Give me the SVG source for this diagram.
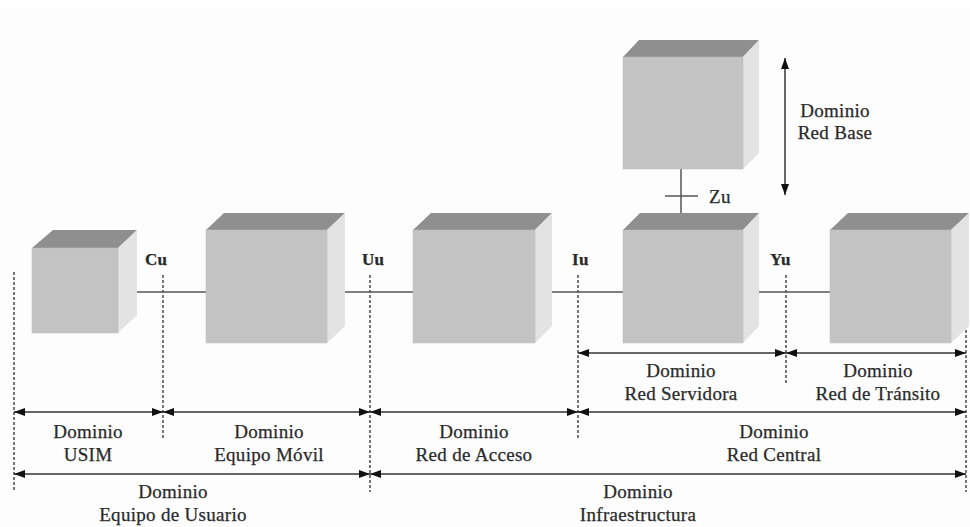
<svg xmlns="http://www.w3.org/2000/svg" width="970" height="527" viewBox="0 0 970 527">
<defs>
<marker id="ah" viewBox="0 0 11 8" refX="11" refY="4" markerWidth="11" markerHeight="8" markerUnits="userSpaceOnUse" orient="auto-start-reverse"><path d="M0,0 L11,4 L0,8 z" fill="#111"/></marker>
<pattern id="dots" width="4" height="4" patternUnits="userSpaceOnUse"><rect width="4" height="4" fill="#c4c4c4"/><rect x="1" y="1" width="1" height="1" fill="#b8b8b8"/></pattern>
</defs>
<style>
.front{fill:url(#dots);stroke:#bdbdbd;stroke-width:0.5}
.top{fill:#8f8f8f}
.side{fill:#e3e3e3}
.conn{stroke:#555;stroke-width:1.5;fill:none}
.dash{stroke:#555;stroke-width:1.6;stroke-dasharray:3,2;fill:none}
.arr{stroke:#333;stroke-width:1.5;fill:none;marker-start:url(#ah);marker-end:url(#ah)}
text{font-family:"Liberation Serif","Times New Roman",serif;font-size:19px;fill:#2a2a2a;stroke:#2a2a2a;stroke-width:0.25;letter-spacing:0.3px}
.c{text-anchor:middle}
.lbl{font-weight:bold;font-size:17px}
</style>
<rect width="970" height="527" fill="#fff"/>
<rect y="10" width="970" height="517" fill="#fcfdfc"/>

<g id="connectors">
<line class="conn" x1="137" y1="292" x2="206" y2="292"/>
<line class="conn" x1="345" y1="292" x2="413" y2="292"/>
<line class="conn" x1="552" y1="292" x2="623" y2="292"/>
<line class="conn" x1="759" y1="292" x2="830" y2="292"/>
<line class="conn" x1="681" y1="169" x2="681" y2="222"/>
<line class="conn" x1="665" y1="196" x2="698" y2="196"/>
<line class="arr" x1="785" y1="58" x2="785" y2="195"/>
<line class="dash" x1="14" y1="272" x2="14" y2="492"/>
<line class="dash" x1="163" y1="275" x2="163" y2="438"/>
<line class="dash" x1="370" y1="275" x2="370" y2="492"/>
<line class="dash" x1="578" y1="275" x2="578" y2="438"/>
<line class="dash" x1="786" y1="275" x2="786" y2="383"/>
<line class="dash" x1="966" y1="275" x2="966" y2="492"/>
<line class="arr" x1="578" y1="353" x2="786" y2="353"/>
<line class="arr" x1="786" y1="353" x2="966" y2="353"/>
<line class="arr" x1="14" y1="412" x2="163" y2="412"/>
<line class="arr" x1="163" y1="412" x2="370" y2="412"/>
<line class="arr" x1="370" y1="412" x2="578" y2="412"/>
<line class="arr" x1="578" y1="412" x2="966" y2="412"/>
<line class="arr" x1="14" y1="474" x2="370" y2="474"/>
<line class="arr" x1="370" y1="474" x2="966" y2="474"/>
</g>

<g id="usim">
<polygon class="top" points="32,248 118,248 137,230 53,230"/>
<polygon class="side" points="118,248 137,230 137,315 118,333"/>
<rect class="front" x="32" y="248" width="86" height="85"/>
</g>
<g id="equipo-movil">
<polygon class="top" points="206,230 327,230 345,213 224,213"/>
<polygon class="side" points="327,230 345,213 345,326 327,343"/>
<rect class="front" x="206" y="230" width="121" height="113"/>
</g>
<g id="red-acceso">
<polygon class="top" points="413,230 535,230 552,213 431,213"/>
<polygon class="side" points="535,230 552,213 552,326 535,343"/>
<rect class="front" x="413" y="230" width="122" height="113"/>
</g>
<g id="red-servidora">
<polygon class="top" points="623,230 743,230 759,213 640,213"/>
<polygon class="side" points="743,230 759,213 759,326 743,343"/>
<rect class="front" x="623" y="230" width="120" height="113"/>
</g>
<g id="red-transito">
<polygon class="top" points="830,230 951,230 969,213 848,213"/>
<polygon class="side" points="951,230 969,213 969,326 951,343"/>
<rect class="front" x="830" y="230" width="121" height="113"/>
</g>
<g id="red-base">
<polygon class="top" points="623,57 743,57 759,40 639,40"/>
<polygon class="side" points="743,57 759,40 759,153 743,169"/>
<rect class="front" x="623" y="57" width="120" height="112"/>
</g>

<g id="labels">
<text class="lbl" x="145" y="265">Cu</text>
<text class="lbl" x="362" y="265">Uu</text>
<text class="lbl" x="572" y="265">Iu</text>
<text class="lbl" x="770" y="265">Yu</text>
<text x="709" y="203">Zu</text>
<text class="c" x="835" y="117">Dominio</text>
<text class="c" x="835" y="139">Red Base</text>
<text class="c" x="681" y="377">Dominio</text>
<text class="c" x="681" y="400">Red Servidora</text>
<text class="c" x="878" y="377">Dominio</text>
<text class="c" x="878" y="400">Red de Tránsito</text>
<text class="c" x="88" y="438">Dominio</text>
<text class="c" x="88" y="461">USIM</text>
<text class="c" x="269" y="438">Dominio</text>
<text class="c" x="269" y="461">Equipo Móvil</text>
<text class="c" x="474" y="438">Dominio</text>
<text class="c" x="474" y="461">Red de Acceso</text>
<text class="c" x="774" y="438">Dominio</text>
<text class="c" x="774" y="461">Red Central</text>
<text class="c" x="173" y="498">Dominio</text>
<text class="c" x="173" y="521">Equipo de Usuario</text>
<text class="c" x="638" y="498">Dominio</text>
<text class="c" x="638" y="521">Infraestructura</text>
</g>
</svg>
